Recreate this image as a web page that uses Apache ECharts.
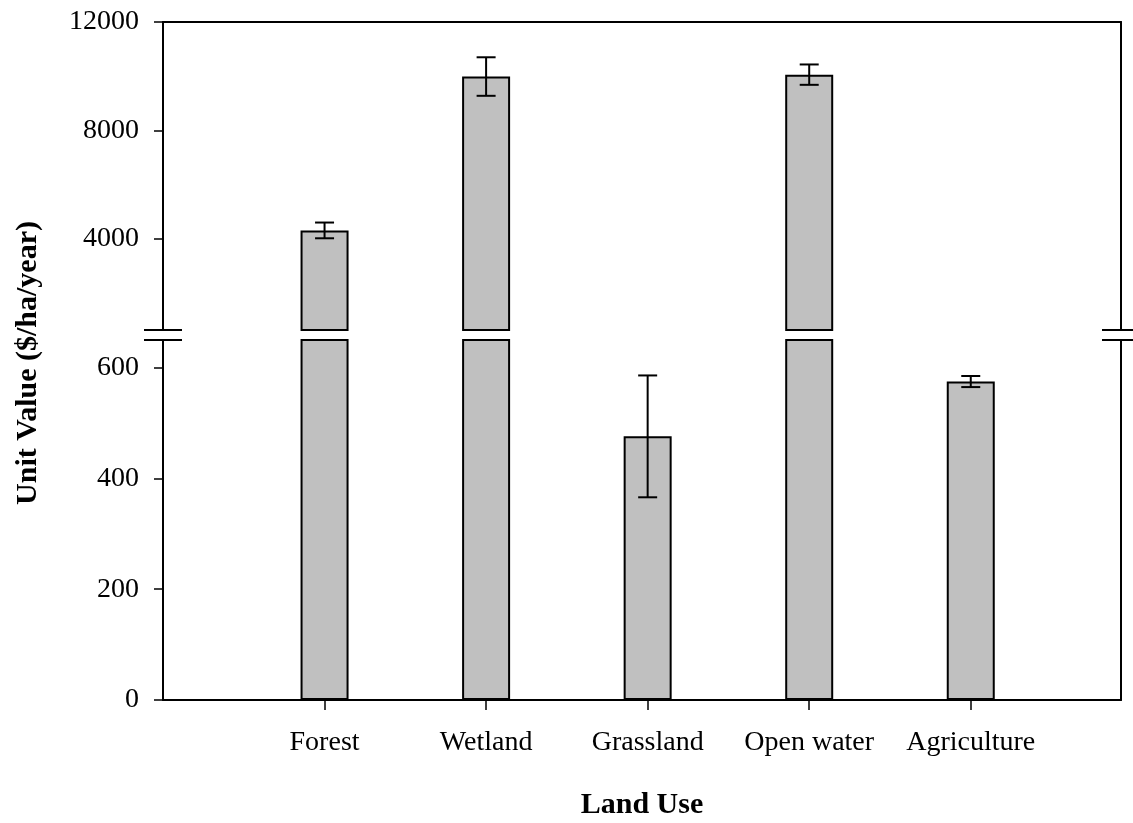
<!DOCTYPE html>
<html>
<head>
<meta charset="utf-8">
<script src="https://cdn.jsdelivr.net/npm/echarts@6/dist/echarts.min.js"></script>
<style>
html,body{margin:0;padding:0;background:#fff;}
#chart{width:1133px;height:823px;}
</style>
</head>
<body>
<div id="chart"></div>
<script>
// ---- data ----
const categories = ['Forest', 'Wetland', 'Grassland', 'Open water', 'Agriculture'];
const values = [4320, 9990, 476, 10060, 575];
const errors = [290, 710, 110, 375, 10];
const upperTicks = [4000, 8000, 12000];
const lowerTicks = [0, 200, 400, 600];
const breakValue = 650;
const upperMax = 12000;
const xPositions = categories.map((c, i) => i + 1);
const xMax = 5.93;

const FONT = 'Liberation Serif, Times New Roman, serif';
const chart = echarts.init(document.getElementById('chart'), null, {renderer: 'canvas'});

const barData = xPositions.map((x, i) => [x, values[i]]);
const errData = xPositions.map((x, i) => [x, values[i], errors[i]]);

function errRender(params, api) {
  const x = api.value(0), v = api.value(1), e = api.value(2);
  const hi = api.coord([x, v + e]);
  const lo = api.coord([x, v - e]);
  const cs = params.coordSys;
  if (hi[1] < cs.y - 1 || lo[1] > cs.y + cs.height + 1) return null;
  const cap = 9.5;
  const st = {stroke: '#000', lineWidth: 2};
  return {
    type: 'group',
    children: [
      {type: 'line', shape: {x1: hi[0], y1: hi[1], x2: lo[0], y2: lo[1]}, style: st},
      {type: 'line', shape: {x1: hi[0] - cap, y1: hi[1], x2: hi[0] + cap, y2: hi[1]}, style: st},
      {type: 'line', shape: {x1: lo[0] - cap, y1: lo[1], x2: lo[0] + cap, y2: lo[1]}, style: st}
    ]
  };
}

const axisLine = {show: true, lineStyle: {color: '#000', width: 2}};
const labelStyle = {color: '#000', fontFamily: FONT, fontSize: 28};
const plain = v => String(Math.round(v));

const option = {
  animation: false,
  backgroundColor: '#fff',
  grid: [
    {left: 163, right: 12, top: 22, height: 308},
    {left: 163, right: 12, top: 340, height: 360}
  ],
  xAxis: [
    {type: 'value', gridIndex: 0, position: 'top', min: 0, max: xMax,
      axisLine: axisLine, axisTick: {show: false}, axisLabel: {show: false}, splitLine: {show: false}},
    {type: 'value', gridIndex: 1, position: 'bottom', min: 0, max: xMax,
      axisLine: axisLine,
      axisTick: {show: true, customValues: xPositions, length: 10, lineStyle: {color: '#000', width: 1.5}},
      axisLabel: Object.assign({customValues: xPositions, margin: 29,
        formatter: v => categories[Math.round(v) - 1] || ''}, labelStyle),
      splitLine: {show: false},
      name: 'Land Use', nameLocation: 'middle', nameGap: 90,
      nameTextStyle: {color: '#000', fontFamily: FONT, fontSize: 30, fontWeight: 'bold'}}
  ],
  yAxis: [
    {type: 'value', gridIndex: 0, position: 'left', min: breakValue, max: upperMax,
      axisLine: axisLine,
      axisTick: {show: true, customValues: upperTicks, length: 9, lineStyle: {color: '#000', width: 1.5}},
      axisLabel: Object.assign({customValues: upperTicks, margin: 24, formatter: plain}, labelStyle),
      splitLine: {show: false}},
    {type: 'value', gridIndex: 0, position: 'right', min: breakValue, max: upperMax,
      axisLine: axisLine, axisTick: {show: false}, axisLabel: {show: false}, splitLine: {show: false}},
    {type: 'value', gridIndex: 1, position: 'left', min: 0, max: breakValue,
      axisLine: axisLine,
      axisTick: {show: true, customValues: lowerTicks, length: 9, lineStyle: {color: '#000', width: 1.5}},
      axisLabel: Object.assign({customValues: lowerTicks, margin: 24, formatter: plain}, labelStyle),
      splitLine: {show: false}},
    {type: 'value', gridIndex: 1, position: 'right', min: 0, max: breakValue,
      axisLine: axisLine, axisTick: {show: false}, axisLabel: {show: false}, splitLine: {show: false}}
  ],
  series: [
    {type: 'bar', xAxisIndex: 0, yAxisIndex: 0, data: barData, barWidth: 48, clip: true,
      itemStyle: {color: '#c0c0c0', borderColor: '#000', borderWidth: 2}, z: 2},
    {type: 'bar', xAxisIndex: 1, yAxisIndex: 2, data: barData, barWidth: 48, clip: true,
      itemStyle: {color: '#c0c0c0', borderColor: '#000', borderWidth: 2}, z: 2},
    {type: 'custom', xAxisIndex: 0, yAxisIndex: 0, data: errData, renderItem: errRender, z: 5},
    {type: 'custom', xAxisIndex: 1, yAxisIndex: 2, data: errData, renderItem: errRender, z: 5}
  ],
  graphic: [
    {type: 'line', shape: {x1: 144, y1: 330, x2: 182, y2: 330}, style: {stroke: '#000', lineWidth: 2}, z: 10},
    {type: 'line', shape: {x1: 144, y1: 340, x2: 182, y2: 340}, style: {stroke: '#000', lineWidth: 2}, z: 10},
    {type: 'line', shape: {x1: 1102, y1: 330, x2: 1133, y2: 330}, style: {stroke: '#000', lineWidth: 2}, z: 10},
    {type: 'line', shape: {x1: 1102, y1: 340, x2: 1133, y2: 340}, style: {stroke: '#000', lineWidth: 2}, z: 10},
    {type: 'text', x: 28, y: 363, rotation: Math.PI / 2,
      style: {text: 'Unit Value ($/ha/year)', fill: '#000', font: 'bold 30px ' + FONT,
        textAlign: 'center', textVerticalAlign: 'middle'}}
  ]
};
chart.setOption(option);
</script>
</body>
</html>
